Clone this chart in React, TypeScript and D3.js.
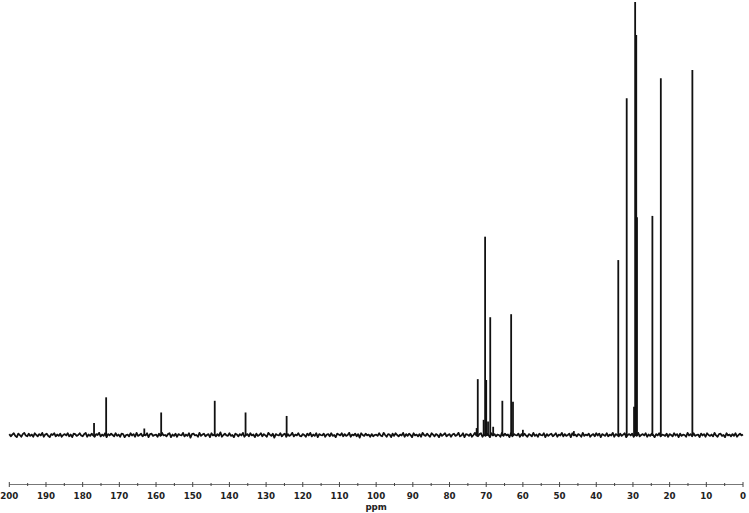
import React from "react";
import * as d3 from "d3";

// Peak positions (ppm) and heights (relative intensity, tallest = 100)
const peakPpm = [
  176.9, 173.6, 163.2, 158.6, 144.0, 135.6, 124.4,
  72.6, 72.3, 70.7, 70.3, 70.0, 69.5, 68.9, 68.1, 65.6, 63.2, 62.7, 60.0, 46.1,
  34.0, 31.7, 29.7, 29.4, 29.1, 28.9, 24.7, 22.4, 13.8,
];
const peakHeight = [
  2.8, 8.7, 1.5, 5.2, 7.9, 5.2, 4.4,
  1.6, 12.9, 3.5, 45.8, 12.7, 3.1, 27.2, 1.9, 7.9, 27.9, 7.7, 1.2, 0.9,
  40.4, 77.8, 6.5, 100, 92.4, 50.3, 50.6, 82.4, 84.3,
];

// Baseline noise (tenths of an intensity unit), 200 -> 0 ppm
const noiseTenths = [
  2,-3,1,4,-2,-5,3,0,-4,2,5,-1,-3,3,-2,1,-4,4,0,-3,2,-1,5,-4,1,3,-2,-5,2,0,4,-3,1,-2,3,-4,0,2,-1,4,-3,1,-5,3,2,-2,0,4,-1,
  -3,2,5,-4,1,-2,3,-1,-4,2,0,5,-3,1,-2,4,-5,2,-1,3,0,-3,4,-2,1,-4,3,2,-5,0,1,-3,4,-1,2,-4,5,-2,0,3,-3,1,-1,4,-5,2,3,-2,0,
  1,-4,3,-2,5,-1,0,-3,2,4,-5,1,-2,3,-4,2,0,-1,5,-3,1,-2,4,-6,2,3,-1,0,-4,5,-2,1,3,-3,0,2,-5,4,-1,1,-3,2,-2,6,-4,0,3,-1,-2,
  4,-2,0,-5,3,1,-3,2,-1,5,-4,0,2,-3,4,-1,1,-5,3,-2,0,4,-3,2,-1,-4,5,1,-2,3,-6,2,0,-1,4,-3,1,3,-4,2,-2,0,5,-3,1,-1,4,-2,-3,
  2,0,-4,3,-1,5,-3,1,-2,4,-5,2,0,-1,3,-4,1,2,-3,4,-2,0,-5,3,1,-1,4,-3,2,-2,0,5,-4,1,-1,3,-3,2,-6,4,0,-2,3,-1,1,-4,2,-3,0,1,
  -2,4,-1,-3,5,0,-4,2,1,-5,3,-2,4,0,-3,1,-1,5,-4,2,-2,3,0,-5,4,-1,1,-3,2,-4,5,0,-2,3,-1,-4,4,1,-3,2,0,-5,3,-2,1,4,-3,0,2,
  -4,1,3,-2,0,5,-3,-1,4,-5,2,1,-2,3,-4,0,5,-1,-3,2,4,-4,1,-2,3,0,-5,4,-1,2,-3,1,0,-4,5,-2,3,-1,1,-5,4,-3,2,0,-1,3,-4,2,-2,
  3,-1,-4,2,0,-3,5,-2,1,-4,3,0,-1,4,-5,2,-2,1,3,-3,0,4,-4,1,-1,5,-3,2,-2,0,3,-5,4,-1,1,-3,2,0,-4,5,-2,1,-1,3,-4,0,2,-3,4,
  -1,3,-5,2,0,-2,4,-3,1,-1,5,-4,2,0,-3,3,-2,1,4,-5,0,2,-1,3,-4,1,-2,5,-3,0,2,-1,4,-4,1,-2,3,0,-5,2,-1,4,-3,1,0,-2,3,-4,2,
  0,-3,4,-1,2,-5,3,-2,1,0,-4,5,-1,2,-3,4,-2,0,1,-5,3,-1,2,-4,4,0,-2,1,-3,5,-1,-4,2,3,-2,0,-5,4,-1,1,-3,2,-2,4,-4,0,3,-1,1,
];

const majorTicks = d3.range(200, -1, -10);
const minorTicks = d3.range(195, 0, -10);
const axisTitle = "ppm";

export default function App() {
  const W = 749;
  const H = 513;
  const x = d3.scaleLinear().domain([200, 0]).range([9.3, 743]);
  const y = d3.scaleLinear().domain([0, 100]).range([435, 2]);
  const axisY = 484.5;

  const n = noiseTenths.length;
  const noisePts: [number, number][] = noiseTenths.map((v, i) => [
    200 - (200 * i) / (n - 1),
    v / 10,
  ]);
  const noisePath = d3
    .line<[number, number]>()
    .x((d) => x(d[0]))
    .y((d) => y(d[1]))(noisePts) as string;

  const font = "'DejaVu Sans', Verdana, sans-serif";

  return (
    <svg
      width={W}
      height={H}
      viewBox={`0 0 ${W} ${H}`}
      style={{ position: "fixed", left: 0, top: 0, background: "#fff" }}
    >
      <rect x={0} y={0} width={W} height={H} fill="#fff" />
      <path d={noisePath} fill="none" stroke="#111" strokeWidth={1.8} strokeLinejoin="round" />
      {peakPpm.map((p, i) => (
        <line
          key={i}
          x1={x(p)}
          x2={x(p)}
          y1={y(0) + 1}
          y2={y(peakHeight[i])}
          stroke="#111"
          strokeWidth={1.8}
        />
      ))}
      <line x1={x(200)} x2={x(0)} y1={axisY} y2={axisY} stroke="#777" strokeWidth={1} />
      {majorTicks.map((t) => (
        <line key={"M" + t} x1={x(t)} x2={x(t)} y1={axisY - 2.5} y2={axisY + 2.5} stroke="#444" strokeWidth={1} />
      ))}
      {minorTicks.map((t) => (
        <line key={"m" + t} x1={x(t)} x2={x(t)} y1={axisY - 1.5} y2={axisY + 1.5} stroke="#444" strokeWidth={1} />
      ))}
      {majorTicks.map((t) => (
        <text
          key={"L" + t}
          x={x(t)}
          y={499}
          textAnchor="middle"
          fontFamily={font}
          fontWeight="bold"
          fontSize={8.7}
          fill="#222"
        >
          {t}
        </text>
      ))}
      <text
        x={(x(200) + x(0)) / 2}
        y={510}
        textAnchor="middle"
        fontFamily={font}
        fontWeight="bold"
        fontSize={8.7}
        fill="#222"
      >
        {axisTitle}
      </text>
    </svg>
  );
}
